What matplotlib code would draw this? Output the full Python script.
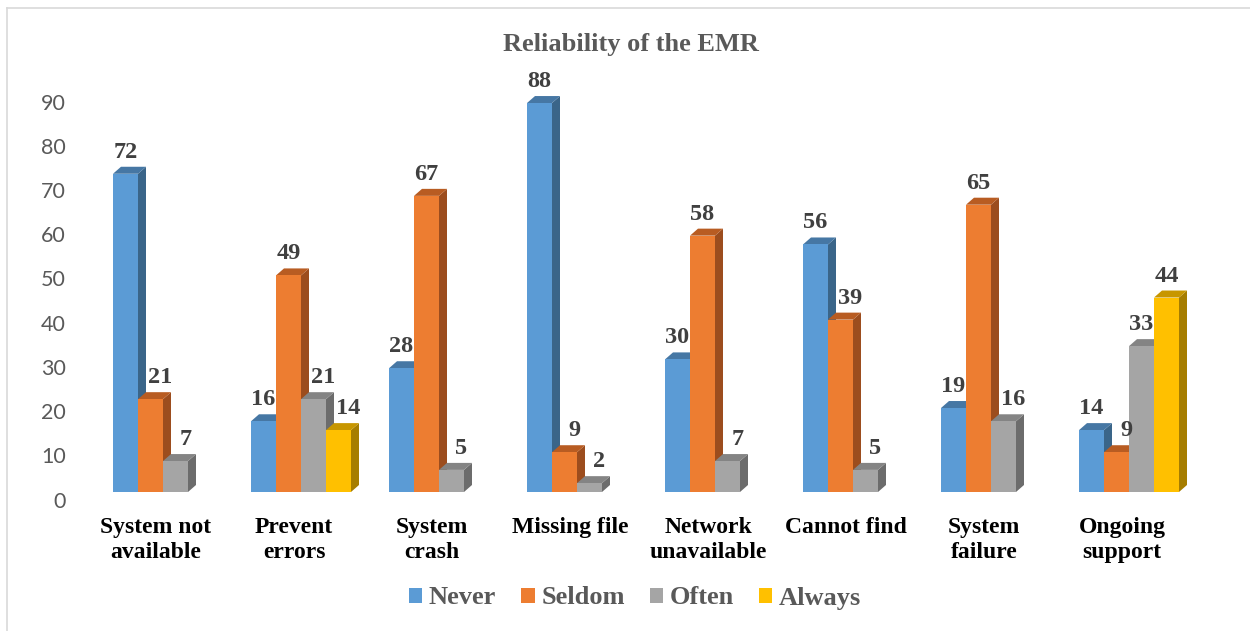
import matplotlib
matplotlib.use("Agg")
import matplotlib.pyplot as plt
from matplotlib.patches import Polygon, Patch
from matplotlib.lines import Line2D
import matplotlib.transforms as mtransforms

categories = ["System not\navailable", "Prevent\nerrors", "System\ncrash", "Missing file",
              "Network\nunavailable", "Cannot find", "System\nfailure", "Ongoing\nsupport"]
series_names = ["Never", "Seldom", "Often", "Always"]
never = [72, 16, 28, 88, 30, 56, 19, 14]
seldom = [21, 49, 67, 9, 58, 39, 65, 9]
often = [7, 21, 5, 2, 7, 5, 16, 33]
always = [None, 14, None, None, None, None, None, 44]
yticks = list(range(0, 100, 10))
title = "Reliability of the EMR"

series = [never, seldom, often, always]
front_cols = ["#5B9BD5", "#ED7D31", "#A5A5A5", "#FFC000"]
side_cols = ["#3A6589", "#9C4D1E", "#6C6C6C", "#A67D00"]
top_cols = ["#4677A4", "#B85C22", "#848484", "#C79600"]

W, H = 1250, 631
fig = plt.figure(figsize=(W / 100, H / 100), dpi=100)
fig.patch.set_facecolor("white")

# frame lines (left and top)
fig.add_artist(Line2D([7 / W, 7 / W], [0, 1 - 8 / H], color="#D9D9D9", lw=1.2))
fig.add_artist(Line2D([7 / W, 1], [1 - 8 / H, 1 - 8 / H], color="#D9D9D9", lw=1.2))

ax_l, ax_r, ax_t, ax_b = 75, 1240, 60, 492
ax = fig.add_axes([ax_l / W, 1 - ax_b / H, (ax_r - ax_l) / W, (ax_b - ax_t) / H])
px_x = 138.0
c0 = 163.0
ax.set_xlim((ax_l - c0) / px_x, (ax_r - c0) / px_x)
px_y = 4.42
ax.set_ylim(0, (ax_b - ax_t) / px_y)
for s in ax.spines.values():
    s.set_visible(False)
ax.set_facecolor("none")

bw = 25.0 / px_x
dx = 8.0 / px_x
dy = 7.0 / px_y

for i in range(len(categories)):
    prev = None
    for j, ser in enumerate(series):
        v = ser[i]
        x0 = i + (j - 2) * bw
        if v is None:
            prev = None
            continue
        x1 = x0 + bw
        side = Polygon([(x1, 0), (x1 + dx, dy), (x1 + dx, v + dy), (x1, v)],
                       closed=True, facecolor=side_cols[j], edgecolor="none", zorder=2)
        top = Polygon([(x0, v), (x0 + dx, v + dy), (x1 + dx, v + dy), (x1, v)],
                      closed=True, facecolor=top_cols[j], edgecolor="none", zorder=2)
        ax.add_patch(side)
        ax.add_patch(top)
        ax.bar(x0, v, width=bw, align="edge", color=front_cols[j], edgecolor="none", zorder=2)
        shift = 10 if (prev is not None and prev > v) else 0
        ax.annotate(str(v), xy=(x0 + bw / 2, v), xytext=(shift * 0.72, 16 * 0.72),
                    textcoords="offset points", ha="center", va="baseline",
                    fontsize=17.5, fontweight="bold", family="Liberation Serif",
                    color="#404040", zorder=5)
        prev = v

ax.set_yticks(yticks)
ax.tick_params(axis="y", length=0, pad=6.5, labelsize=15.5, labelcolor="#595959")
for lab in ax.get_yticklabels():
    lab.set_family("Lato")
    lab.set_transform(lab.get_transform() + mtransforms.ScaledTranslation(0, -7.5 / 100, fig.dpi_scale_trans))

ax.set_xticks(range(len(categories)))
ax.set_xticklabels(categories, fontsize=17, fontweight="bold", family="Liberation Serif",
                   color="black", linespacing=1.22)
ax.tick_params(axis="x", length=0, pad=18)
for lab in ax.get_xticklabels():
    lab.set_transform(lab.get_transform() + mtransforms.ScaledTranslation(-7 / 100, 0, fig.dpi_scale_trans))

fig.text(631 / W, 1 - 44 / H, title, ha="center", va="center", fontsize=19,
         fontweight="bold", family="Liberation Serif", color="#595959")

handles = [Patch(facecolor=c, edgecolor="none") for c in front_cols]
leg = fig.legend(handles, series_names, loc="center", bbox_to_anchor=(635 / W, 1 - 598 / H),
                 ncol=4, frameon=False, handlelength=0.5, handleheight=0.5, handletextpad=0.25,
                 columnspacing=0.95, borderpad=0.2,
                 prop={"family": "Liberation Serif", "weight": "bold", "size": 19})
for t in leg.get_texts():
    t.set_color("#595959")

fig.savefig("out.png", dpi=100, facecolor="white")
